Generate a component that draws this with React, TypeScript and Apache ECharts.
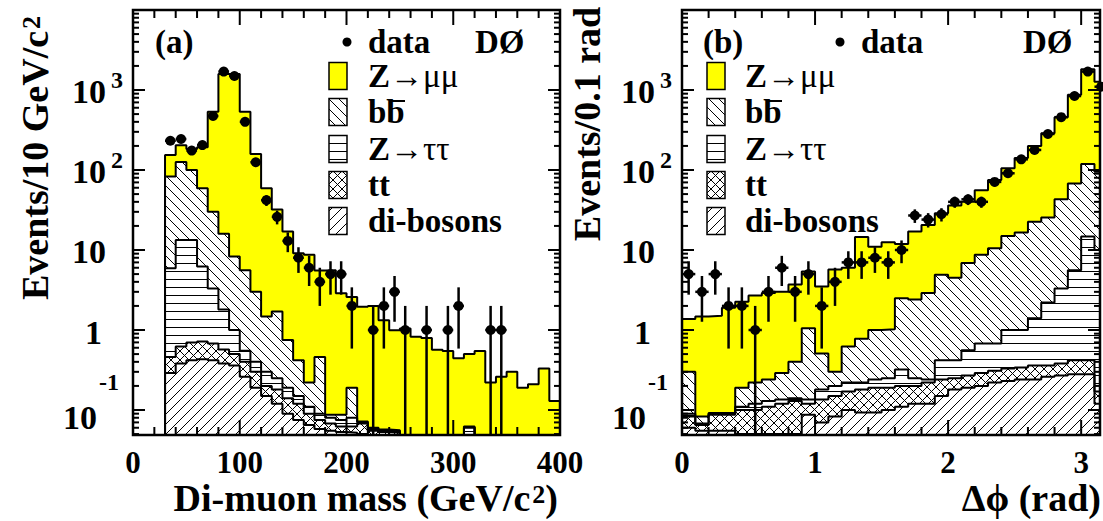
import React, { useEffect, useRef } from "react";
import * as echarts from "echarts";

const FONT = "'Liberation Serif', 'Times New Roman', serif";

// ---------- (a) di-muon mass, 10 GeV/c^2 bins (lower edges) ----------
const massBinLow = [30, 40, 50, 60, 70, 80, 90, 100, 110, 120, 130, 140, 150, 160, 170, 180, 190, 200, 210, 220, 230, 240, 250, 260, 270, 280, 290, 300, 310, 320, 330, 340, 350, 360, 370, 380, 390];
const massBinWidth = 10;
const massDataCounts = [232, 244, 175, 205, 473, 1700, 1496, 400, 125, 42, 26, 13, 8, 6, 4, 5, 5, 2, 0, 1, 2, 3, 1, 0, 1, 0, 1, 2, 0, 0, 1, 1, 0, 0, 0, 0, 0];
const massZmumu = [71, 78, 83, 133, 505, 1564, 1572, 529, 155, 57.5, 30.3, 16.3, 8.7, 8.5, 5.1, 5.5, 2.8, 2.4, 1.88, 1.94, 1.27, 0.94, 1.0, 0.78, 0.75, 0.52, 0.5, 0.4, 0.44, 0.5, 0.175, 0.215, 0.255, 0.145, 0.165, 0.285, 0.085];
const massBBbar = [77.1, 112.7, 86.7, 52.8, 26.7, 14.2, 7.3, 5.05, 2.6, 1.17, 1.45, 0.56, 0.27, 0.11, 0.37, 0.007, 0.012, 0.11, 0.002, 0.002, 0.002, 0.002, 0.005, 0.005, 0.005, 0.005, 0.005, 0.005, 0.002, 0.005, 0.005, 0.005, 0.005, 0.005, 0.005, 0.005, 0.005];
const massZtautau = [5.44, 12.68, 12.6, 5.48, 2.62, 1.23, 0.5, 0.15, 0.1, 0.1, 0.07, 0.05, 0.03, 0.02, 0.015, 0.012, 0.013, 0.018, 0.002, 0.003, 0.002, 0.002, 0.005, 0.005, 0.005, 0.005, 0.005, 0.005, 0.025, 0.005, 0.005, 0.005, 0.005, 0.005, 0.005, 0.005, 0.005];
const massTTbar = [0.17, 0.24, 0.28, 0.29, 0.26, 0.19, 0.14, 0.14, 0.11, 0.05, 0.06, 0.05, 0.045, 0.025, 0.017, 0.013, 0.009, 0.01, 0.018, 0.01, 0.013, 0.012, 0.005, 0.005, 0.005, 0.005, 0.005, 0.005, 0.005, 0.005, 0.005, 0.005, 0.005, 0.005, 0.005, 0.005, 0.005];
const massDiboson = [0.29, 0.38, 0.42, 0.43, 0.42, 0.38, 0.36, 0.26, 0.19, 0.15, 0.12, 0.09, 0.075, 0.065, 0.058, 0.055, 0.053, 0.052, 0.05, 0.045, 0.04, 0.04, 0.03, 0.03, 0.03, 0.03, 0.03, 0.03, 0.03, 0.03, 0.03, 0.03, 0.03, 0.03, 0.03, 0.03, 0.03];

// ---------- (b) delta phi, 0.1 rad bins (lower edges) ----------
const phiBinLow = [0, 0.1, 0.2, 0.3, 0.4, 0.5, 0.6, 0.7, 0.8, 0.9, 1.0, 1.1, 1.2, 1.3, 1.4, 1.5, 1.6, 1.7, 1.8, 1.9, 2.0, 2.1, 2.2, 2.3, 2.4, 2.5, 2.6, 2.7, 2.8, 2.9, 3.0, 3.1];
const phiBinWidth = 0.1;
const phiDataCounts = [5, 3, 5, 2, 2, 1, 3, 6, 3, 5, 2, 4, 7, 7, 8, 7, 10, 27, 24, 28, 40, 43, 40, 71, 91, 136, 178, 282, 458, 841, 1700, 1100];
const phiZmumu = [1.07, 1.39, 1.41, 1.81, 2.06, 2.48, 2.66, 2.71, 3.3, 4.35, 2.99, 5.4, 5.38, 13.72, 10, 11.48, 9.4, 14.6, 17.6, 23.8, 31.5, 33.1, 47.3, 64.5, 90, 124.5, 177.5, 262.5, 415, 802, 1701, 1175];
const phiBBbar = [0.21, 0.015, 0.002, 0.002, 0.08, 0.1, 0.11, 0.155, 0.26, 0.915, 0.33, 0.1, 0.4, 0.56, 0.76, 0.77, 2.18, 2.15, 2.66, 4.48, 4.08, 6.34, 8.02, 9.82, 14, 15.5, 21.1, 23.3, 39.7, 62.4, 104.3, 85];
const phiZtautau = [0.007, 0.003, 0.003, 0.003, 0.01, 0.02, 0.02, 0.015, 0.01, 0.015, 0.045, 0.05, 0.05, 0.04, 0.05, 0.06, 0.12, 0.05, 0.02, 0.18, 0.17, 0.29, 0.39, 0.37, 0.67, 0.66, 1.04, 1.84, 2.92, 5.18, 14.28, 9.83];
const phiTTbar = [0.023, 0.01, 0.032, 0.032, 0.05, 0.05, 0.06, 0.07, 0.08, 0.033, 0.065, 0.067, 0.07, 0.087, 0.097, 0.09, 0.09, 0.08, 0.1, 0.09, 0.07, 0.08, 0.09, 0.09, 0.1, 0.1, 0.12, 0.1, 0.11, 0.14, 0.14, 0.05];
const phiDiboson = [0.06, 0.055, 0.055, 0.055, 0.05, 0.05, 0.05, 0.05, 0.05, 0.087, 0.07, 0.083, 0.1, 0.093, 0.093, 0.1, 0.11, 0.12, 0.12, 0.15, 0.18, 0.19, 0.2, 0.22, 0.23, 0.24, 0.24, 0.26, 0.27, 0.28, 0.28, 0.12];

// ---------- axes / texts ----------
const massTickMajor = [0, 100, 200, 300, 400];
const phiTickMajor = [0, 1, 2, 3];
const yLabelPowers = [-1, 0, 1, 2, 3];
const legendLabels = ["{b|Z}{g|→μμ}", "{b|bb}", "{b|Z}{g|→ττ}", "{b|tt}", "{b|di-bosons}"];
const panelTags = ["(a)", "(b)"];
const experimentTag = "DØ";
const dataLabel = "data";
const massYTitle = "{a|Events/10 GeV/c}{s|2}";
const phiYTitle = "{a|Events/0.1 rad}";
const massXTitle = "{a|Di-muon mass (GeV/c}{s|2}{a|)}";
const phiXTitle = "{a|Δϕ (rad)}";

const YMIN = 0.0487;
const YMAX = 10000;
const FLOOR = 1e-3;
const GRID_LEFT = [133, 682];

function hatch(kind: string, s: number) {
  const c = document.createElement("canvas");
  c.width = s;
  c.height = s;
  const ctx = c.getContext("2d")!;
  ctx.fillStyle = "#fff";
  ctx.fillRect(0, 0, s, s);
  ctx.strokeStyle = "#000";
  ctx.lineWidth = 1;
  ctx.beginPath();
  if (kind === "h") {
    ctx.moveTo(0, s - 0.5);
    ctx.lineTo(s, s - 0.5);
  }
  if (kind === "back" || kind === "cross") {
    for (let k = -1; k <= 1; k++) {
      ctx.moveTo(k * s, 0);
      ctx.lineTo(k * s + s, s);
    }
  }
  if (kind === "fwd" || kind === "cross") {
    for (let k = -1; k <= 1; k++) {
      ctx.moveTo(k * s, s);
      ctx.lineTo(k * s + s, 0);
    }
  }
  ctx.stroke();
  return { image: c.toDataURL(), repeat: "repeat", imageWidth: s, imageHeight: s };
}

function cumulative(layers: number[][]): number[][] {
  const out: number[][] = [];
  let acc = layers[0].map(() => 0);
  for (const l of layers) {
    acc = acc.map((a, i) => a + l[i]);
    out.push(acc);
  }
  return out;
}

function histSeries(edges: number[], width: number, vals: number[], fill: any, gi: number) {
  const pts: number[][] = [[edges[0], FLOOR]];
  vals.forEach((v, i) => pts.push([edges[i], v]));
  const end = edges[edges.length - 1] + width;
  pts.push([end, vals[vals.length - 1]]);
  pts.push([end, FLOOR]);
  return {
    type: "line",
    xAxisIndex: gi,
    yAxisIndex: gi,
    data: pts,
    step: "end",
    symbol: "none",
    showSymbol: false,
    clip: true,
    silent: true,
    z: 2,
    lineStyle: { color: "#000", width: 2 },
    itemStyle: { color: "#000" },
    areaStyle: { color: fill, opacity: 1, origin: "start" },
  };
}

function dataSeries(edges: number[], width: number, counts: number[], gi: number) {
  const items: number[][] = [];
  counts.forEach((n, i) => {
    if (n > 0) {
      const e = Math.sqrt(n);
      items.push([edges[i] + width / 2, n, n - e, n + e, width / 2]);
    }
  });
  return {
    type: "custom",
    xAxisIndex: gi,
    yAxisIndex: gi,
    data: items,
    z: 5,
    silent: true,
    renderItem: (params: any, api: any) => {
      const cs = params.coordSys;
      const x = api.value(0), y = api.value(1), lo = api.value(2), hi = api.value(3), hw = api.value(4);
      const c = api.coord([x, y]);
      const bottom = cs.y + cs.height;
      const yLo = lo > 0 ? Math.min(api.coord([x, lo])[1], bottom) : bottom;
      const yHi = api.coord([x, hi])[1];
      const xl = api.coord([x - hw, y])[0];
      const xr = api.coord([x + hw, y])[0];
      return {
        type: "group",
        children: [
          { type: "line", shape: { x1: c[0], y1: yLo, x2: c[0], y2: yHi }, style: { stroke: "#000", lineWidth: 2.5, fill: "none" } },
          { type: "line", shape: { x1: xl, y1: c[1], x2: xr, y2: c[1] }, style: { stroke: "#000", lineWidth: 2.5, fill: "none" } },
          { type: "circle", shape: { cx: c[0], cy: c[1], r: 5 }, style: { fill: "#000", stroke: "none" } },
        ],
      };
    },
  };
}

function tickSeries(xMin: number, xMajor: number[], xMinorStep: number, xMax: number, gi: number) {
  const items: number[][] = [];
  for (let d = -2; d <= 3; d++) {
    for (let m = 1; m <= 9; m++) {
      const v = m * Math.pow(10, d);
      if (v >= YMIN && v <= YMAX) items.push([xMin, v, m === 1 ? 0 : 1]);
    }
  }
  xMajor.forEach((v) => items.push([v, 1, 2]));
  for (let k = 1; k * xMinorStep < xMax; k++) {
    const v = k * xMinorStep;
    if (!xMajor.some((m) => Math.abs(m - v) < 1e-6)) items.push([v, 1, 3]);
  }
  items.push([xMin, 1, 4]);
  const ln = (x1: number, y1: number, x2: number, y2: number) => ({
    type: "line",
    shape: { x1, y1, x2, y2 },
    style: { stroke: "#000", lineWidth: 2, fill: "none" },
  });
  return {
    type: "custom",
    xAxisIndex: gi,
    yAxisIndex: gi,
    data: items,
    z: 10,
    silent: true,
    renderItem: (params: any, api: any) => {
      const cs = params.coordSys;
      const kind = api.value(2);
      if (kind === 4) {
        return {
          type: "rect",
          shape: { x: cs.x, y: cs.y, width: cs.width, height: cs.height },
          style: { fill: "none", stroke: "#000", lineWidth: 2.5 },
        };
      }
      const p = api.coord([api.value(0), api.value(1)]);
      if (kind <= 1) {
        const L = kind === 0 ? 12 : 6;
        return {
          type: "group",
          children: [ln(cs.x, p[1], cs.x + L, p[1]), ln(cs.x + cs.width - L, p[1], cs.x + cs.width, p[1])],
        };
      }
      const L = kind === 2 ? 15 : 8;
      const b = cs.y + cs.height;
      return {
        type: "group",
        children: [ln(p[0], b, p[0], b - L), ln(p[0], cs.y, p[0], cs.y + L)],
      };
    },
  };
}

function makeYAxis(gi: number) {
  return {
    gridIndex: gi,
    type: "log",
    logBase: 10,
    min: YMIN,
    max: YMAX,
    axisLine: { show: false },
    axisTick: { show: false },
    minorTick: { show: false },
    splitLine: { show: false },
    axisLabel: { show: false },
  };
}

const xLabelStyle = { fontSize: 31, lineHeight: 31, fontWeight: "bold", fontFamily: FONT, color: "#000", margin: 12 };

const titleRich = {
  a: { fontSize: 38, fontWeight: "bold", fontFamily: FONT, color: "#000", lineHeight: 36, verticalAlign: "bottom" },
  s: { fontSize: 26, fontWeight: "bold", fontFamily: FONT, color: "#000", lineHeight: 26, verticalAlign: "top", padding: [0, 0, 12, 2] },
};

const legendRich = {
  b: { fontSize: 33, fontWeight: "bold", fontFamily: FONT, color: "#000" },
  g: { fontSize: 33, fontWeight: "normal", fontFamily: FONT, color: "#000" },
};

const rowY = [76, 112, 149, 185, 221];

function txt(x: number, y: number, text: string, size: number, align: string, weight = "bold") {
  return {
    type: "text",
    z: 20,
    x,
    y,
    style: { text, fontSize: size, fontWeight: weight, fontFamily: FONT, fill: "#000", align, verticalAlign: "middle" },
  };
}

function legendGraphics(boxX: number, textX: number, markerX: number, tagX: number, doX: number, fills: any[], tag: string) {
  const els: any[] = [];
  rowY.forEach((cy, i) => {
    els.push({
      type: "rect",
      z: 20,
      shape: { x: boxX, y: cy - 13.5, width: 18, height: 27 },
      style: { fill: fills[i], stroke: "#000", lineWidth: 1.5 },
    });
    els.push({
      type: "text",
      z: 20,
      x: textX,
      y: cy,
      style: { text: legendLabels[i], rich: legendRich, align: "left", verticalAlign: "middle" },
    });
  });
  els.push({
    type: "line",
    z: 21,
    shape: { x1: textX + 24, y1: rowY[1] - 11, x2: textX + 37, y2: rowY[1] - 11 },
    style: { stroke: "#000", lineWidth: 2 },
  });
  els.push({ type: "circle", z: 20, shape: { cx: markerX, cy: 42, r: 4.5 }, style: { fill: "#000" } });
  els.push(txt(markerX + 21, 42, dataLabel, 33, "left"));
  els.push(txt(tagX, 42, tag, 33, "left"));
  els.push(txt(doX, 42, experimentTag, 33, "left"));
  return els;
}

export default function App() {
  const ref = useRef<HTMLDivElement>(null);
  useEffect(() => {
    if (!ref.current) return;
    const chart = echarts.init(ref.current, undefined, { renderer: "svg" });

    const yellow = "#ffff00";
    const pBB = hatch("back", 10);
    const pTau = hatch("h", 8);
    const pTT = hatch("cross", 9);
    const pDB = hatch("fwd", 10);
    const fills = [yellow, pBB, pTau, pTT, pDB];

    const massCum = cumulative([massDiboson, massTTbar, massZtautau, massBBbar, massZmumu]);
    const phiCum = cumulative([phiDiboson, phiTTbar, phiZtautau, phiBBbar, phiZmumu]);

    const series: any[] = [];
    const drawFills = [pDB, pTT, pTau, pBB, yellow];
    for (let k = 4; k >= 0; k--) series.push(histSeries(massBinLow, massBinWidth, massCum[k], drawFills[k], 0));
    for (let k = 4; k >= 0; k--) series.push(histSeries(phiBinLow, phiBinWidth, phiCum[k], drawFills[k], 1));
    series.push(dataSeries(massBinLow, massBinWidth, massDataCounts, 0));
    series.push(dataSeries(phiBinLow, phiBinWidth, phiDataCounts, 1));
    series.push(tickSeries(0, massTickMajor, 20, 400, 0));
    series.push(tickSeries(0, phiTickMajor, 0.2, Math.PI, 1));

    chart.setOption({
      animation: false,
      textStyle: { fontFamily: FONT },
      grid: [
        { left: 133, top: 10, width: 427, height: 425, show: false },
        { left: 682, top: 10, width: 418.6, height: 425, show: false },
      ],
      xAxis: [
        {
          gridIndex: 0,
          type: "value",
          min: 0,
          max: 400,
          interval: 100,
          axisLine: { show: false },
          axisTick: { show: false },
          splitLine: { show: false },
          axisLabel: { ...xLabelStyle },
        },
        {
          gridIndex: 1,
          type: "value",
          min: 0,
          max: Math.PI,
          interval: 1,
          axisLine: { show: false },
          axisTick: { show: false },
          splitLine: { show: false },
          axisLabel: {
            ...xLabelStyle,
            formatter: (v: number) => (Math.abs(v - Math.round(v)) < 1e-6 ? String(Math.round(v)) : ""),
          },
        },
      ],
      yAxis: [makeYAxis(0), makeYAxis(1)],
      series,
    });

    // y tick labels (10^n with superscripts), placed through the axis scale
    const yLabels: any[] = [];
    [0, 1].forEach((gi) => {
      const ax = GRID_LEFT[gi];
      yLabelPowers.forEach((p) => {
        const y = chart.convertToPixel({ yAxisIndex: gi } as any, Math.pow(10, p)) as number;
        if (p === 0) {
          yLabels.push(txt(ax - 31, y + 2, "1", 34, "right"));
        } else if (p === 1) {
          yLabels.push(txt(ax - 27, y + 1, "10", 34, "right"));
        } else if (p === -1) {
          yLabels.push(txt(ax - 36, y + 7, "10", 34, "right"));
          yLabels.push(txt(ax - 34, y - 28, "-1", 24, "left"));
        } else {
          yLabels.push(txt(ax - 27, y + 1, "10", 34, "right"));
          yLabels.push(txt(ax - 22, y - 10, String(p), 24, "left"));
        }
      });
    });

    const graphic: any[] = [
      ...legendGraphics(329, 368, 347, 155, 475, fills, panelTags[0]),
      ...legendGraphics(707, 745, 840, 703, 1023, fills, panelTags[1]),
      ...yLabels,
      { type: "text", z: 20, x: 36, y: 158, rotation: Math.PI / 2, style: { text: massYTitle, rich: titleRich, align: "center", verticalAlign: "middle" } },
      { type: "text", z: 20, x: 588, y: 124, rotation: Math.PI / 2, style: { text: phiYTitle, rich: titleRich, align: "center", verticalAlign: "middle" } },
      { type: "text", z: 20, x: 558, y: 499, style: { text: massXTitle, rich: titleRich, align: "right", verticalAlign: "middle" } },
      { type: "text", z: 20, x: 1101, y: 499, style: { text: phiXTitle, rich: titleRich, align: "right", verticalAlign: "middle" } },
    ];
    chart.setOption({ graphic });

    return () => chart.dispose();
  }, []);

  return <div ref={ref} style={{ position: "fixed", left: 0, top: 0, width: 1103, height: 521, background: "#fff" }} />;
}
